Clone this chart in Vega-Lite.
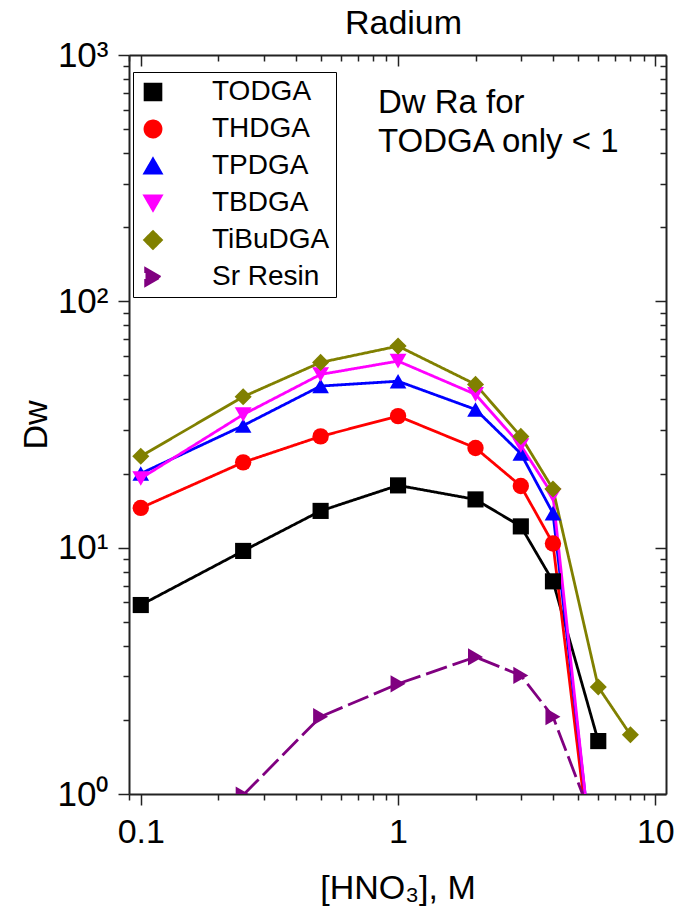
{
  "$schema": "https://vega.github.io/schema/vega-lite/v6.json",
  "width": 537,
  "height": 739,
  "autosize": "none",
  "padding": {"left": 129, "top": 55, "right": 11, "bottom": 117},
  "background": "white",
  "title": {"text": "Radium", "fontSize": 34, "font": "Liberation Sans", "fontWeight": "normal", "color": "black", "anchor": "middle", "baseline": "alphabetic", "offset": 20, "dy": 50, "dx": 6},
  "config": {
    "view": {"stroke": null},
    "font": "Liberation Sans",
    "axis": {"grid": false, "domainColor": "#222", "tickColor": "#222", "domainWidth": 2, "tickWidth": 1.5, "labelFont": "Liberation Sans", "titleFont": "Liberation Sans", "labelColor": "black", "titleColor": "black", "titleFontWeight": "normal", "labelFlush": false, "labelOverlap": false, "labelBound": false},
    "legend": {"title": null, "orient": "none", "legendX": 4, "legendY": 17,
      "direction": "vertical",
      "symbolSize": 225, "labelFontSize": 28, "labelFont": "Liberation Sans", "labelColor": "black",
      "labelOffset": 45, "rowPadding": 9, "padding": 6,
      "strokeColor": "black", "fillColor": "white"}
  },
  "datasets": {
    "dw": [
      {"series": "TODGA", "hno3": 0.1, "dw": 5.85},
      {"series": "TODGA", "hno3": 0.25, "dw": 9.7},
      {"series": "TODGA", "hno3": 0.5, "dw": 14.1},
      {"series": "TODGA", "hno3": 1, "dw": 17.9},
      {"series": "TODGA", "hno3": 2, "dw": 15.7},
      {"series": "TODGA", "hno3": 3, "dw": 12.2},
      {"series": "TODGA", "hno3": 4, "dw": 7.3},
      {"series": "TODGA", "hno3": 6, "dw": 1.64},
      {"series": "THDGA", "hno3": 0.1, "dw": 14.5},
      {"series": "THDGA", "hno3": 0.25, "dw": 22.2},
      {"series": "THDGA", "hno3": 0.5, "dw": 28.3},
      {"series": "THDGA", "hno3": 1, "dw": 34.2},
      {"series": "THDGA", "hno3": 2, "dw": 25.4},
      {"series": "THDGA", "hno3": 3, "dw": 17.8},
      {"series": "THDGA", "hno3": 4, "dw": 10.4},
      {"series": "THDGA", "hno3": 6, "dw": 0.31},
      {"series": "TPDGA", "hno3": 0.1, "dw": 20.0},
      {"series": "TPDGA", "hno3": 0.25, "dw": 31.3},
      {"series": "TPDGA", "hno3": 0.5, "dw": 45.3},
      {"series": "TPDGA", "hno3": 1, "dw": 47.4},
      {"series": "TPDGA", "hno3": 2, "dw": 36.4},
      {"series": "TPDGA", "hno3": 3, "dw": 24.1},
      {"series": "TPDGA", "hno3": 4, "dw": 13.8},
      {"series": "TPDGA", "hno3": 6, "dw": 0.34},
      {"series": "TBDGA", "hno3": 0.1, "dw": 19.1},
      {"series": "TBDGA", "hno3": 0.25, "dw": 34.7},
      {"series": "TBDGA", "hno3": 0.5, "dw": 50.5},
      {"series": "TBDGA", "hno3": 1, "dw": 57.2},
      {"series": "TBDGA", "hno3": 2, "dw": 41.9},
      {"series": "TBDGA", "hno3": 3, "dw": 26.0},
      {"series": "TBDGA", "hno3": 4, "dw": 16.3},
      {"series": "TBDGA", "hno3": 6, "dw": 0.32},
      {"series": "TiBuDGA", "hno3": 0.1, "dw": 23.5},
      {"series": "TiBuDGA", "hno3": 0.25, "dw": 41.0},
      {"series": "TiBuDGA", "hno3": 0.5, "dw": 56.5},
      {"series": "TiBuDGA", "hno3": 1, "dw": 65.8},
      {"series": "TiBuDGA", "hno3": 2, "dw": 46.0},
      {"series": "TiBuDGA", "hno3": 3, "dw": 28.3},
      {"series": "TiBuDGA", "hno3": 4, "dw": 17.3},
      {"series": "TiBuDGA", "hno3": 6, "dw": 2.72},
      {"series": "TiBuDGA", "hno3": 8, "dw": 1.74},
      {"series": "Sr Resin", "hno3": 0.25, "dw": 0.99},
      {"series": "Sr Resin", "hno3": 0.5, "dw": 2.06},
      {"series": "Sr Resin", "hno3": 1, "dw": 2.8},
      {"series": "Sr Resin", "hno3": 2, "dw": 3.6},
      {"series": "Sr Resin", "hno3": 3, "dw": 3.03},
      {"series": "Sr Resin", "hno3": 4, "dw": 2.06},
      {"series": "Sr Resin", "hno3": 6, "dw": 0.68}
    ],
    "note": [
      {"hno3": 0.835, "dw": 582, "text": "Dw Ra for\nTODGA only < 1"}
    ]
  },
  "resolve": {"axis": {"x": "independent", "y": "independent"}},
  "layer": [
    {
      "data": {"name": "dw"},
      "mark": {"type": "line", "clip": true, "strokeWidth": 2.8},
      "encoding": {
        "x": {"field": "hno3", "type": "quantitative",
          "scale": {"type": "log", "domain": [0.09, 11], "nice": false},
          "axis": {"orient": "bottom",
            "values": [0.09, 0.1, 0.2, 0.3, 0.4, 0.5, 0.6, 0.7, 0.8, 0.9, 1, 2, 3, 4, 5, 6, 7, 8, 9, 10],
            "labelExpr": "datum.value==0.1?'0.1':datum.value==1?'1':datum.value==10?'10':''",
            "tickSize": {"condition": {"test": "datum.value==0.1||datum.value==1||datum.value==10", "value": 11}, "value": 6},
            "labelFontSize": 34, "labelPadding": 10,
            "title": "[HNO₃], M", "titleFontSize": 34, "titleY": 104, "titleBaseline": "alphabetic"}},
        "y": {"field": "dw", "type": "quantitative",
          "scale": {"type": "log", "domain": [1, 1000], "nice": false},
          "axis": {"orient": "left",
            "values": [1, 2, 3, 4, 5, 6, 7, 8, 9, 10, 20, 30, 40, 50, 60, 70, 80, 90, 100, 200, 300, 400, 500, 600, 700, 800, 900, 1000],
            "labelExpr": "datum.value==1?'10⁰':datum.value==10?'10¹':datum.value==100?'10²':datum.value==1000?'10³':''",
            "tickSize": {"condition": {"test": "datum.value==1||datum.value==10||datum.value==100||datum.value==1000", "value": 11}, "value": 6},
            "labelFontSize": 35, "labelPadding": 10, "labelBaseline": "middle",
            "title": "Dw", "titleFontSize": 34, "titleX": -93, "titleY": 369.5, "titleBaseline": "middle"}},
        "color": {"field": "series", "type": "nominal",
          "scale": {"domain": ["TODGA", "THDGA", "TPDGA", "TBDGA", "TiBuDGA", "Sr Resin"], "range": ["#000000", "#FF0000", "#0000FF", "#FF00FF", "#808000", "#800080"]},
          "legend": {
            "labelExpr": "datum.label + '\\u00a0\\u00a0'",
            "encode": {"symbols": {"update": {
              "shape": {"value": {"expr": "datum.value==='TODGA'?'M-2.13,0H7.2M1.58,-0.95H3.48V0.95H1.58Z':datum.value==='THDGA'?'M-2.13,0H7.2M3.53,0A1,1,0,1,1,1.53,0A1,1,0,1,1,3.53,0Z':datum.value==='TPDGA'?'M-2.13,0H7.2M2.53,-1.2L3.66,0.75L1.4,0.75Z':datum.value==='TBDGA'?'M-2.13,0H7.2M2.53,1.2L3.66,-0.75L1.4,-0.75Z':datum.value==='TiBuDGA'?'M-2.13,0H7.2M2.53,-1.35L3.88,0L2.53,1.35L1.18,0Z':'M-2.13,0H7.2M3.76,0L1.66,-1.15L1.66,1.15Z'"}},
              "fill": {"value": {"expr": "scale('color', datum.value)"}},
              "stroke": {"value": {"expr": "scale('color', datum.value)"}},
              "strokeWidth": {"value": 2.5},
              "strokeDash": {"value": [1, 0]},
              "opacity": {"value": 1},
              "size": {"value": 225}}}}}},
        "strokeDash": {"field": "series", "type": "nominal",
          "scale": {"domain": ["TODGA", "THDGA", "TPDGA", "TBDGA", "TiBuDGA", "Sr Resin"], "range": [[1, 0], [1, 0], [1, 0], [1, 0], [1, 0], [22, 6]]},
          "legend": null}
      }
    },
    {
      "data": {"name": "dw"},
      "mark": {"type": "point", "filled": true, "opacity": 1, "clip": true},
      "encoding": {
        "x": {"field": "hno3", "type": "quantitative",
          "scale": {"type": "log", "domain": [0.09, 11], "nice": false},
          "axis": {"orient": "top",
            "values": [0.09, 0.1, 0.2, 0.3, 0.4, 0.5, 0.6, 0.7, 0.8, 0.9, 1, 2, 3, 4, 5, 6, 7, 8, 9, 10],
            "labels": false, "title": null,
            "tickSize": {"condition": {"test": "datum.value==0.1||datum.value==1||datum.value==10", "value": -11}, "value": -6}}},
        "y": {"field": "dw", "type": "quantitative",
          "scale": {"type": "log", "domain": [1, 1000], "nice": false},
          "axis": {"orient": "right",
            "values": [1, 2, 3, 4, 5, 6, 7, 8, 9, 10, 20, 30, 40, 50, 60, 70, 80, 90, 100, 200, 300, 400, 500, 600, 700, 800, 900, 1000],
            "labels": false, "title": null,
            "tickSize": {"condition": {"test": "datum.value==1||datum.value==10||datum.value==100||datum.value==1000", "value": -11}, "value": -6}}},
        "color": {"field": "series", "type": "nominal",
          "scale": {"domain": ["TODGA", "THDGA", "TPDGA", "TBDGA", "TiBuDGA", "Sr Resin"], "range": ["#000000", "#FF0000", "#0000FF", "#FF00FF", "#808000", "#800080"]},
          "legend": {
            "labelExpr": "datum.label + '\\u00a0\\u00a0'",
            "encode": {"symbols": {"update": {
              "shape": {"value": {"expr": "datum.value==='TODGA'?'M-2.13,0H7.2M1.58,-0.95H3.48V0.95H1.58Z':datum.value==='THDGA'?'M-2.13,0H7.2M3.53,0A1,1,0,1,1,1.53,0A1,1,0,1,1,3.53,0Z':datum.value==='TPDGA'?'M-2.13,0H7.2M2.53,-1.2L3.66,0.75L1.4,0.75Z':datum.value==='TBDGA'?'M-2.13,0H7.2M2.53,1.2L3.66,-0.75L1.4,-0.75Z':datum.value==='TiBuDGA'?'M-2.13,0H7.2M2.53,-1.35L3.88,0L2.53,1.35L1.18,0Z':'M-2.13,0H7.2M3.76,0L1.66,-1.15L1.66,1.15Z'"}},
              "fill": {"value": {"expr": "scale('color', datum.value)"}},
              "stroke": {"value": {"expr": "scale('color', datum.value)"}},
              "strokeWidth": {"value": 2.5},
              "strokeDash": {"value": [1, 0]},
              "opacity": {"value": 1},
              "size": {"value": 225}}}}}},
        "shape": {"field": "series", "type": "nominal",
          "scale": {"domain": ["TODGA", "THDGA", "TPDGA", "TBDGA", "TiBuDGA", "Sr Resin"], "range": ["square", "circle", "triangle-up", "triangle-down", "diamond", "triangle-right"]},
          "legend": null},
        "size": {"field": "series", "type": "nominal",
          "scale": {"domain": ["TODGA", "THDGA", "TPDGA", "TBDGA", "TiBuDGA", "Sr Resin"], "range": [260, 300, 380, 380, 620, 420]},
          "legend": null}
      }
    },
    {
      "data": {"name": "note"},
      "mark": {"type": "text", "align": "left", "baseline": "alphabetic", "fontSize": 33, "font": "Liberation Sans", "color": "black", "lineBreak": "\n", "lineHeight": 39},
      "encoding": {
        "x": {"field": "hno3", "type": "quantitative", "scale": {"type": "log", "domain": [0.09, 11], "nice": false}, "axis": null},
        "y": {"field": "dw", "type": "quantitative", "scale": {"type": "log", "domain": [1, 1000], "nice": false}, "axis": null},
        "text": {"field": "text"}
      }
    }
  ]
}
